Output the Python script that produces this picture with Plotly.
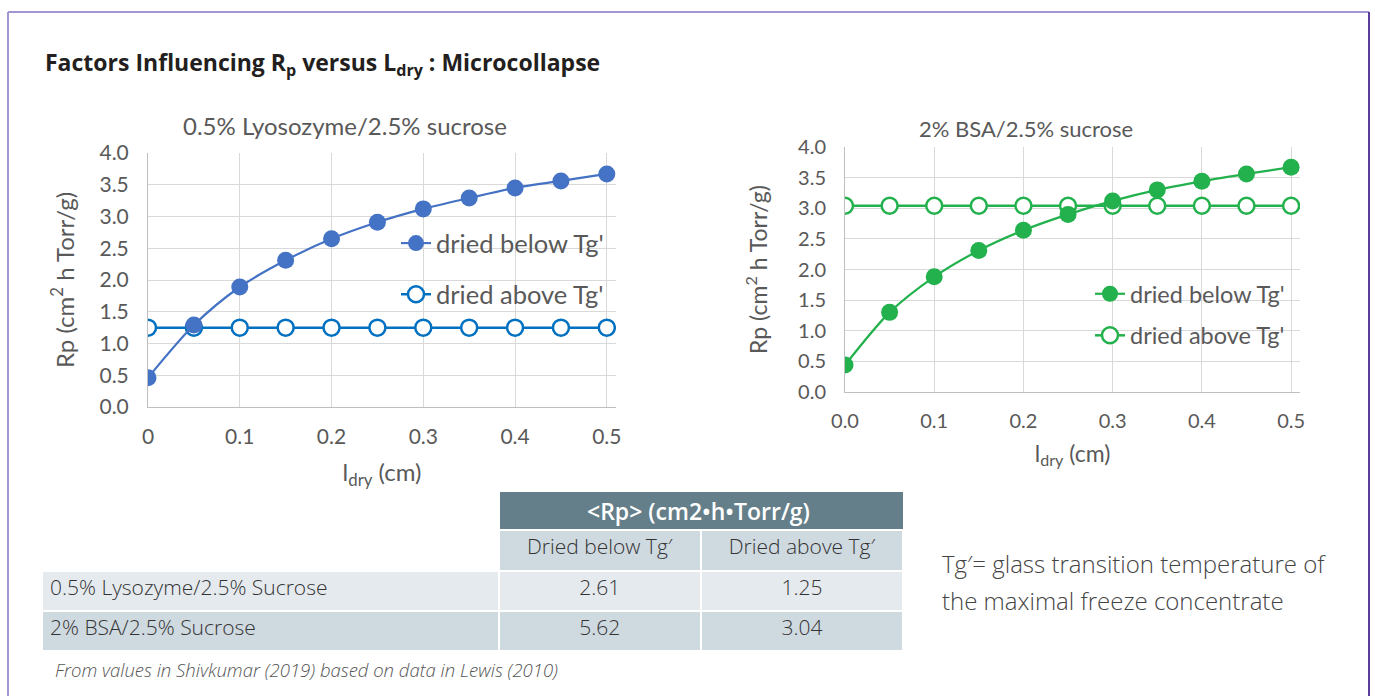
import plotly.graph_objects as go

W, H = 1375, 696

# ---------------- data ----------------
ldry = [0.0, 0.05, 0.10, 0.15, 0.20, 0.25, 0.30, 0.35, 0.40, 0.45, 0.50]
lyso_below = [0.46, 1.29, 1.89, 2.31, 2.65, 2.91, 3.12, 3.29, 3.45, 3.56, 3.67]
lyso_above = [1.25, 1.25, 1.25, 1.25, 1.25, 1.25, 1.25, 1.25, 1.25, 1.25, 1.25]
bsa_below = [0.44, 1.30, 1.88, 2.31, 2.64, 2.90, 3.12, 3.30, 3.44, 3.56, 3.67]
bsa_above = [3.04, 3.04, 3.04, 3.04, 3.04, 3.04, 3.04, 3.04, 3.04, 3.04, 3.04]

series_names = ["dried below Tg'", "dried above Tg'"]
chart_titles = ["0.5% Lyosozyme/2.5% sucrose", "2% BSA/2.5% sucrose"]

table_header = "&lt;Rp&gt; (cm2•h•Torr/g)"
table_cols = ["Dried below Tg′", "Dried above Tg′"]
table_rows = ["0.5% Lysozyme/2.5% Sucrose", "2% BSA/2.5% Sucrose"]
table_below = [2.61, 5.62]
table_above = [1.25, 3.04]

title_text = "<b>Factors Influencing R<sub>p</sub> versus L<sub>dry</sub> : Microcollapse</b>"
note_lines = ["Tg′= glass transition temperature of", "the maximal freeze concentrate"]
source_text = "<i>From values in Shivkumar (2019) based on data in Lewis (2010)</i>"

# ---------------- style ----------------
BLUE_F = "#4472C4"
BLUE_O = "#0070C0"
GREEN = "#22B14C"
TXT = "#595959"
GRID = "#D9D9D9"
AXL = "#BFBFBF"
CF = "Lato"        # chart font
TF = "Open Sans"   # page font
HEAD = "#647F8A"
CELL_A = "#E5EAEE"
CELL_B = "#CFD9E0"


def px_x(p):
    return p / W


def px_y(p):
    return 1 - p / H


fig = go.Figure()

# left chart ("above" drawn first so filled markers sit on top)
fig.add_trace(go.Scatter(x=ldry, y=lyso_above, name=series_names[1], mode="lines+markers",
                         line=dict(color=BLUE_O, width=2.5),
                         marker=dict(size=16, color="white", line=dict(color=BLUE_O, width=2.5)),
                         xaxis="x", yaxis="y", legend="legend", legendgroup="b", legendrank=2))
fig.add_trace(go.Scatter(x=ldry, y=lyso_below, name=series_names[0], mode="lines+markers",
                         line=dict(color=BLUE_F, width=2.2, shape="spline", smoothing=0.8),
                         marker=dict(size=17, color=BLUE_F), xaxis="x", yaxis="y",
                         legend="legend", legendgroup="a", legendrank=1))
# right chart
fig.add_trace(go.Scatter(x=ldry, y=bsa_above, name=series_names[1], mode="lines+markers",
                         line=dict(color=GREEN, width=2.5),
                         marker=dict(size=16, color="white", line=dict(color=GREEN, width=2.5)),
                         xaxis="x2", yaxis="y2", legend="legend2", legendgroup="d", legendrank=2))
fig.add_trace(go.Scatter(x=ldry, y=bsa_below, name=series_names[0], mode="lines+markers",
                         line=dict(color=GREEN, width=2.2, shape="spline", smoothing=0.8),
                         marker=dict(size=17, color=GREEN), xaxis="x2", yaxis="y2",
                         legend="legend2", legendgroup="c", legendrank=1))

# table (sub-header + rows)
fig.add_trace(go.Table(
    domain=dict(x=[px_x(42), px_x(904)], y=[px_y(690), px_y(530)]),
    columnwidth=[456, 202, 202],
    header=dict(values=["", table_cols[0], table_cols[1]],
                fill_color=["white", CELL_B, CELL_B], height=41,
                line=dict(color="white", width=2),
                font=dict(family=TF, size=21, color="#333333", weight=300), align="center"),
    cells=dict(values=[table_rows, [f"{v:.2f}" for v in table_below], [f"{v:.2f}" for v in table_above]],
               fill_color=[[CELL_A, CELL_B]] * 3, height=40,
               line=dict(color="white", width=2),
               font=dict(family=TF, size=21, color="#333333", weight=300),
               align=["left", "center", "center"]),
))

axis_common = dict(showgrid=True, gridcolor=GRID, gridwidth=1, showline=True, linecolor=AXL,
                   linewidth=1, zeroline=False, ticks="outside", tickcolor="rgba(0,0,0,0)",
                   automargin=False)

fig.update_layout(
    width=W, height=H, margin=dict(l=0, r=0, t=0, b=0, autoexpand=False),
    paper_bgcolor="white", plot_bgcolor="white",
    xaxis=dict(axis_common, domain=[px_x(148), px_x(616)], range=[0, 0.51], dtick=0.1, tick0=0,
               ticklen=11, anchor="y", tickfont=dict(family=CF, size=21, color=TXT),
               title=dict(text="l<sub>dry</sub> (cm)", standoff=16, font=dict(family=CF, size=24, color=TXT))),
    yaxis=dict(axis_common, domain=[px_y(407), px_y(153)], range=[0, 4], dtick=0.5, tickformat=".1f",
               ticklen=14, anchor="x", tickfont=dict(family=CF, size=21, color=TXT),
               title=dict(text="Rp (cm<sup>2</sup> h Torr/g)", standoff=18, font=dict(family=CF, size=24, color=TXT))),
    xaxis2=dict(axis_common, domain=[px_x(845), px_x(1300)], range=[0, 0.51], dtick=0.1, tick0=0,
                tickformat=".1f", ticklen=11, anchor="y2",
                tickfont=dict(family=CF, size=20, color=TXT),
                title=dict(text="l<sub>dry</sub> (cm)", standoff=14, font=dict(family=CF, size=23, color=TXT))),
    yaxis2=dict(axis_common, domain=[px_y(392), px_y(147)], range=[0, 4], dtick=0.5, tickformat=".1f",
                ticklen=14, anchor="x2", tickfont=dict(family=CF, size=20, color=TXT),
                title=dict(text="Rp (cm<sup>2</sup> h Torr/g)", standoff=24, font=dict(family=CF, size=23, color=TXT))),
    legend=dict(x=px_x(396), y=px_y(220), xanchor="left", yanchor="top", bgcolor="rgba(0,0,0,0)",
                font=dict(family=CF, size=25.5, color=TXT), tracegroupgap=15, traceorder="grouped"),
    legend2=dict(x=px_x(1090), y=px_y(272), xanchor="left", yanchor="top", bgcolor="rgba(0,0,0,0)",
                 font=dict(family=CF, size=23.5, color=TXT), tracegroupgap=8, traceorder="grouped"),
    showlegend=True,
)

annotations = [
    dict(text=title_text, x=px_x(43), y=px_y(63), xanchor="left", yanchor="middle",
         font=dict(family=TF, size=23, color="#231F20")),
    dict(text=chart_titles[0], x=px_x(345), y=px_y(125), xanchor="center", yanchor="middle",
         font=dict(family=CF, size=24, color=TXT)),
    dict(text=chart_titles[1], x=px_x(1026), y=px_y(128), xanchor="center", yanchor="middle",
         font=dict(family=CF, size=22, color=TXT)),
    dict(text=source_text, x=px_x(53), y=px_y(669), xanchor="left", yanchor="middle",
         font=dict(family=TF, size=18.5, color="#555555", weight=300)),
    # group header of the table
    dict(text=table_header, x=px_x(698), y=px_y(511), xanchor="center", yanchor="middle",
         font=dict(family=TF, size=23, color="white", weight=600)),
]
for i, line in enumerate(note_lines):
    annotations.append(dict(text=line, x=px_x(940), y=px_y(563 + 37 * i), xanchor="left", yanchor="middle",
                            font=dict(family=TF, size=24, color="#444444", weight=300)))
for a in annotations:
    a.update(xref="paper", yref="paper", showarrow=False)
fig.update_layout(annotations=annotations)

shapes = [
    # table group header band
    dict(type="rect", xref="paper", yref="paper", x0=px_x(500), x1=px_x(903), y0=px_y(530), y1=px_y(492),
         fillcolor=HEAD, line=dict(width=0), layer="below"),
    # page border
    dict(type="line", xref="paper", yref="paper", x0=px_x(8), x1=px_x(1369), y0=px_y(12), y1=px_y(12),
         line=dict(color="#A395D1", width=2)),
    dict(type="line", xref="paper", yref="paper", x0=px_x(8), x1=px_x(8), y0=px_y(12), y1=0,
         line=dict(color="#A395D1", width=2)),
    dict(type="line", xref="paper", yref="paper", x0=px_x(1369), x1=px_x(1369), y0=px_y(12), y1=0,
         line=dict(color="#5A3E9B", width=2)),
]
fig.update_layout(shapes=shapes)

fig.write_html("out.html", config={"displayModeBar": False},
               post_script="document.body.style.margin='0';document.body.style.overflow='hidden';")
